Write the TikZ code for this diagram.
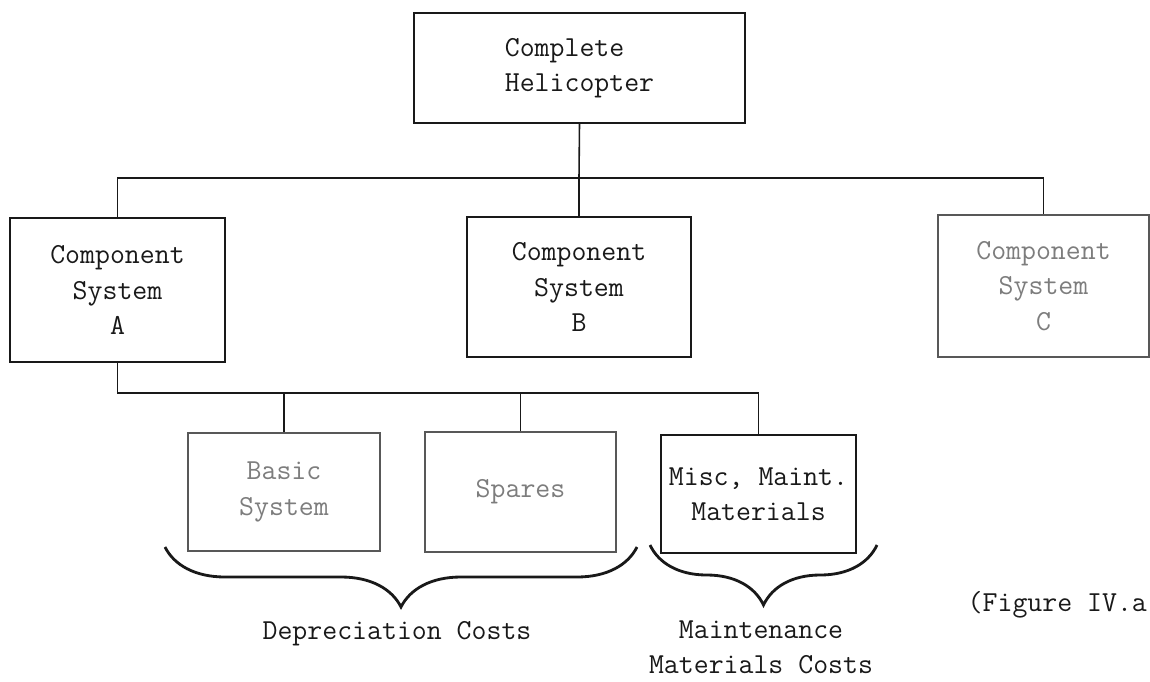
\documentclass[tikz,border=0pt]{standalone}
\usepackage{tikz}
\usetikzlibrary{
  positioning,
  decorations.pathreplacing
}
\definecolor{linecolor}{RGB}{25, 25, 25}
\definecolor{fadedcolor}{RGB}{125, 125, 125}
\tikzset{
blocktext/.style={
  align=center,
  font=\ttfamily\fontsize{16.5}{20}\selectfont,
  text=linecolor
},
block/.style={
  draw=linecolor,
  line width=1.2pt,
  inner sep=0pt,
  blocktext
},
fadedblock/.style={
  block,
  draw=fadedcolor!70!black,
  text=fadedcolor
},
link/.style={
  draw=linecolor,
  line width=0.9pt
},
costbrace/.style={
  decorate,
  decoration={brace, mirror, amplitude=1.2cm},
  line width=1.6pt,
  draw=linecolor
}
}

\begin{document}
\begin{tikzpicture}[x=0.02cm, y=-0.02cm]
    \useasboundingbox (0,0) rectangle (1150,681);

    % Top level
    \node[block, minimum width=6.62cm, minimum height=2.2cm, align=left] (heli) at (579.5,68) {Complete\\Helicopter};

    % Component systems
    \node[block, minimum width=4.3cm, minimum height=2.88cm] (compa) at (117.5,290) {Component\\System\\A};
    \node[block, minimum width=4.48cm, minimum height=2.8cm] (compb) at (579,287) {Component\\System\\B};
    \node[fadedblock, minimum width=4.22cm, minimum height=2.84cm] (compc) at (1043.5,286) {Component\\System\\C};

    % Parts of system A
    \node[fadedblock, minimum width=3.84cm, minimum height=2.36cm] (basic) at (284,492) {Basic\\System};
    \node[fadedblock, minimum width=3.82cm, minimum height=2.4cm] (spares) at (520.5,492) {Spares};
    \node[block, minimum width=3.9cm, minimum height=2.36cm] (misc) at (758.5,494) {Misc, Maint.\\Materials};

    % Connectors
    \coordinate (topbus) at (579,178);
    \coordinate (subbus) at (117.5,393);
    \draw[link] (heli.south) -- (topbus);
    \draw[link] (compa.north) |- (topbus) -| (compc.north);
    \draw[link] (topbus) -- (compb.north);
    \draw[link] (compa.south) -- (subbus) -| (misc.north);
    \draw[link] (basic.north) -- (basic.north |- subbus);
    \draw[link] (spares.north) -- (spares.north |- subbus);

    % Cost groups
    \coordinate (deprl) at (165,547);
    \coordinate (deprr) at (637,547);
    \coordinate (maintl) at (650,545);
    \coordinate (maintr) at (877,545);
    \draw[costbrace] (deprl) -- (deprr);
    \draw[costbrace] (maintl) -- (maintr);
    \node[blocktext] (deprtext) at (397,634) {Depreciation Costs};
    \node[blocktext] (mainttext) at (761,647) {Maintenance\\Materials Costs};

    \node[blocktext, anchor=east, inner sep=1pt] (figtext) at (1149,605) {(Figure IV.a};

  \end{tikzpicture}
\end{document}
